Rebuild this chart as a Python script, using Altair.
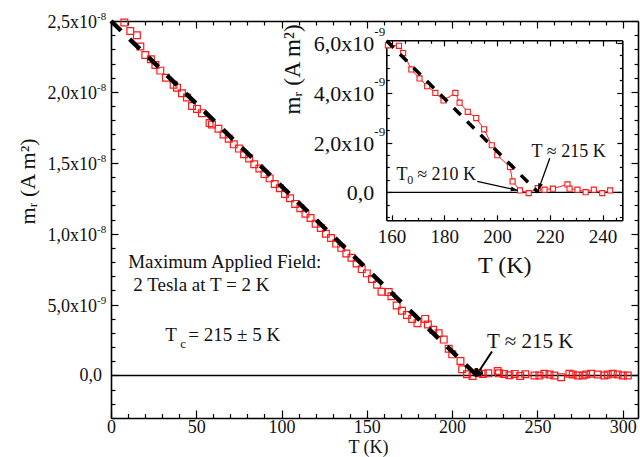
import altair as alt
import pandas as pd

FONT = "Liberation Serif"

# ---------------- data: remanent moment m_r (in units of 1e-9 A m^2) vs T (K)
T_data = [7.8, 11.3, 15.2, 17.2, 20.1, 23.4, 26.0, 28.9, 32.2, 36.7, 38.7, 41.6, 44.5, 47.5, 50.4,
          53.3, 57.8, 59.2, 63.0, 66, 69, 72, 75, 78, 81, 84, 87, 90, 93, 96, 99, 102, 105, 108,
          111, 114, 117, 120, 123, 126, 129, 132, 135, 138, 141, 144, 147, 150, 153, 156,
          158.6, 162.8, 164.4, 167.5, 170.6, 173.5, 176.6, 179.7, 184.2, 185.8, 188.9, 192.1,
          195.1, 198.0, 200.1, 204.9, 205.9, 208.7, 212.0, 215.4, 218.0, 221.2, 226.7, 227.5,
          230.5, 233.6, 236.7, 239.9, 242.9, 248.3, 251.2, 254.1, 257.1, 260.0, 263.9, 268.8,
          270.7, 273.7, 276.6, 278.6, 281.5, 285.4, 289.3, 291.3, 294.2, 297.1, 300.1, 303.0]
m_data = [24.9, 24.3, 24.0, 23.2, 22.6, 22.3, 21.9, 21.5, 21.0, 20.5, 20.3, 19.9, 19.6, 19.0, 18.8,
          18.5, 17.8, 17.7, 17.4, 17.0, 16.7, 16.3, 16.0, 15.6, 15.3, 14.9, 14.6, 14.2, 13.9, 13.5,
          13.2, 12.8, 12.5, 12.1, 11.8, 11.4, 11.1, 10.7, 10.4, 10.0, 9.7, 9.3, 9.0, 8.6, 8.3, 7.9,
          7.5, 7.2, 6.8, 6.4,
          5.90, 5.88, 5.59, 4.93, 4.57, 4.26, 3.99, 3.69, 3.99, 3.60, 3.23, 2.98,
          2.53, 1.89, 1.49, 1.02, 0.44, 0.08, -0.03, 0.17, 0.11, 0.15, 0.32, 0.15,
          0.11, 0.01, 0.11, -0.03, 0.08, 0.0, 0.0, 0.12, 0.07, 0.0, -0.12, 0.12,
          0.07, 0.0, 0.0, 0.07, 0.12, 0.07, 0.0, 0.07, 0.12, 0.07, 0.0, 0.0]

# linear extrapolations (dashed)
fit_T = [0, 214.5]
fit_m = [25.0, 0.0]
ifit_T = [158.1, 215.6]
ifit_m = [6.08, 0.0]

# axis tick labels
main_x_ticks = [0, 50, 100, 150, 200, 250, 300]
main_y_vals = [0, 5, 10, 15, 20, 25]
main_y_base = ["0,0", "5,0x10", "1,0x10", "1,5x10", "2,0x10", "2,5x10"]
main_y_exp = ["", "-9", "-8", "-8", "-8", "-8"]
inset_x_ticks = [160, 180, 200, 220, 240]
inset_y_vals = [0, 2, 4, 6]
inset_y_base = ["0,0", "2,0x10", "4,0x10", "6,0x10"]
inset_y_exp = ["", "-9", "-9", "-9"]

# annotations (data coordinates)
main_ann_text = ["Maximum Applied Field:", "2 Tesla at T = 2 K", "T", "= 215 ± 5 K"]
main_ann_T = [10.1, 13.1, 31.8, 45.3]
main_ann_m = [8.0, 6.35, 2.82, 2.82]
main_sub_text = ["c"]
main_sub_T = [40.6]
main_sub_m = [2.2]
main_arrow_text = ["T ≈ 215 K"]
main_arrow_T = [220.5]
main_arrow_m = [2.36]
main_arrow = dict(T0=[223.4], m0=[1.69], T1=[214.4], m1=[0.05])

inset_ann_text = ["T", "≈ 210 K", "T ≈ 215 K"]
inset_ann_T = [161.9, 169.7, 213.1]
inset_ann_m = [0.68, 0.68, 1.62]
inset_sub_text = ["0"]
inset_sub_T = [165.9]
inset_sub_m = [0.5]
inset_arrow1 = dict(T0=[192.5], m0=[0.44], T1=[207.9], m1=[0.08])
inset_arrow2 = dict(T0=[220.0], m0=[1.37], T1=[215.6], m1=[0.08])

# ---------------- layout
W, H = 527, 397
IL, IR, IT, IB = 275.3, 511.3, 19.3, 199.3   # inset box inside the plot area (px)

MX = alt.Scale(domain=[0, 309], nice=False, zero=False)
MY = alt.Scale(domain=[-3, 25], nice=False, zero=False)
IX = alt.Scale(domain=[158, 247.5], range=[IL, IR], nice=False, zero=False)
IY = alt.Scale(domain=[-1.12, 6.1], range=[IB, IT], nice=False, zero=False)

df = pd.DataFrame({"T": T_data, "m": m_data})
dfi = df[(df["T"] >= 158) & (df["T"] <= 247.5)]
fit = pd.DataFrame({"T": fit_T, "m": fit_m})
ifit = pd.DataFrame({"T": ifit_T, "m": ifit_m})


def enc_main(x="T:Q", y="m:Q"):
    return dict(x=alt.X(x, scale=MX, axis=None), y=alt.Y(y, scale=MY, axis=None))


def enc_inset(x="T:Q", y="m:Q"):
    return dict(x=alt.X(x, scale=IX, axis=None), y=alt.Y(y, scale=IY, axis=None))


layers = []

# ---- main plot
layers.append(alt.Chart(pd.DataFrame({"z": [0]})).mark_rule(color="black", strokeWidth=1.5).encode(
    y=alt.Y("z:Q", scale=MY, axis=None)))
layers.append(alt.Chart(df).mark_point(shape="square", filled=False, color="#ff1a1a", size=46,
                                       strokeWidth=1.2, opacity=1).encode(**enc_main()))
layers.append(alt.Chart(fit).mark_line(color="black", strokeWidth=4.5, strokeDash=[14, 12]).encode(**enc_main()))
ma = pd.DataFrame(main_arrow)
layers.append(alt.Chart(ma).mark_rule(color="black", strokeWidth=2).encode(
    x=alt.X("T0:Q", scale=MX, axis=None), y=alt.Y("m0:Q", scale=MY, axis=None),
    x2="T1:Q", y2="m1:Q"))
layers.append(alt.Chart(ma).mark_point(shape="M-0.75,-1L0,0L0.75,-1", filled=False, color="black",
                                       strokeWidth=3.5, size=110, angle=33, opacity=1).encode(**enc_main("T1:Q", "m1:Q")))
ann = pd.DataFrame({"T": main_ann_T, "m": main_ann_m, "t": main_ann_text})
layers.append(alt.Chart(ann).mark_text(align="left", baseline="middle", fontSize=19, color="#111").encode(
    text="t:N", **enc_main()))
aat = pd.DataFrame({"T": main_arrow_T, "m": main_arrow_m, "t": main_arrow_text})
layers.append(alt.Chart(aat).mark_text(align="left", baseline="middle", fontSize=21, color="#111").encode(
    text="t:N", **enc_main()))
sub = pd.DataFrame({"T": main_sub_T, "m": main_sub_m, "t": main_sub_text})
layers.append(alt.Chart(sub).mark_text(align="left", baseline="middle", fontSize=13, color="#111").encode(
    text="t:N", **enc_main()))
# y tick labels with superscript exponents
yl = pd.DataFrame({"v": main_y_vals, "b": main_y_base, "e": main_y_exp})
layers.append(alt.Chart(yl).transform_filter("datum.e != ''").mark_text(
    align="right", baseline="middle", dx=-14, dy=2, fontSize=18, color="#111").encode(
    x=alt.X(datum=0, scale=MX, axis=None), y=alt.Y("v:Q", scale=MY, axis=None), text="b:N"))
layers.append(alt.Chart(yl).transform_filter("datum.e == ''").mark_text(
    align="right", baseline="middle", dx=-9, dy=1, fontSize=18, color="#111").encode(
    x=alt.X(datum=0, scale=MX, axis=None), y=alt.Y("v:Q", scale=MY, axis=None), text="b:N"))
layers.append(alt.Chart(yl).transform_filter("datum.e != ''").mark_text(
    align="left", baseline="middle", dx=-14, dy=-4, fontSize=11, color="#111").encode(
    x=alt.X(datum=0, scale=MX, axis=None), y=alt.Y("v:Q", scale=MY, axis=None), text="e:N"))

# ---- inset
layers.append(alt.Chart(pd.DataFrame({"a": [158], "b": [247.5], "z": [0]})).mark_rule(
    color="black", strokeWidth=1.3).encode(
    x=alt.X("a:Q", scale=IX, axis=None), x2="b:Q", y=alt.Y("z:Q", scale=IY, axis=None)))
layers.append(alt.Chart(dfi).mark_line(color="#ff1a1a", strokeWidth=1).encode(**enc_inset()))
layers.append(alt.Chart(dfi).mark_point(shape="square", filled=True, fill="white", stroke="#ff1a1a",
                                        size=26, strokeWidth=1.1, opacity=1).encode(**enc_inset()))
layers.append(alt.Chart(ifit).mark_line(color="black", strokeWidth=3.5, strokeDash=[10, 9]).encode(**enc_inset()))
for arr, ang in ((inset_arrow1, 282.4), (inset_arrow2, 20)):
    a = pd.DataFrame(arr)
    layers.append(alt.Chart(a).mark_rule(color="black", strokeWidth=1.3).encode(
        x=alt.X("T0:Q", scale=IX, axis=None), y=alt.Y("m0:Q", scale=IY, axis=None),
        x2="T1:Q", y2="m1:Q"))
    layers.append(alt.Chart(a).mark_point(shape="M-0.35,-1L0,0L0.35,-1Z", filled=True, color="black",
                                          size=200, angle=ang, opacity=1).encode(**enc_inset("T1:Q", "m1:Q")))
iann = pd.DataFrame({"T": inset_ann_T, "m": inset_ann_m, "t": inset_ann_text})
layers.append(alt.Chart(iann).mark_text(align="left", baseline="middle", fontSize=18, color="#111").encode(
    text="t:N", **enc_inset()))
isub = pd.DataFrame({"T": inset_sub_T, "m": inset_sub_m, "t": inset_sub_text})
layers.append(alt.Chart(isub).mark_text(align="left", baseline="middle", fontSize=12, color="#111").encode(
    text="t:N", **enc_inset()))
iyl = pd.DataFrame({"v": inset_y_vals, "b": inset_y_base, "e": inset_y_exp})
layers.append(alt.Chart(iyl).mark_text(
    align="right", baseline="middle", dx=-12, dy=1, fontSize=22, color="#111").encode(
    x=alt.X(datum=158, scale=IX, axis=None), y=alt.Y("v:Q", scale=IY, axis=None), text="b:N"))
layers.append(alt.Chart(iyl).transform_filter("datum.e != ''").mark_text(
    align="left", baseline="middle", dx=-12, dy=-11, fontSize=13, color="#111").encode(
    x=alt.X(datum=158, scale=IX, axis=None), y=alt.Y("v:Q", scale=IY, axis=None), text="e:N"))


# ---- axes (frames with inward ticks)
def tsize(mod, big, small):
    return {"condition": {"test": f"datum.value % {mod} === 0", "value": big}, "value": small}


def axis_layer(xs, ys, xaxis, yaxis, x0, y0):
    d = pd.DataFrame({"a": [x0], "b": [y0]})
    return alt.Chart(d).mark_point(opacity=0).encode(
        x=alt.X("a:Q", scale=xs, axis=xaxis), y=alt.Y("b:Q", scale=ys, axis=yaxis))


common = dict(grid=False, domainColor="black", tickColor="black", tickWidth=1.2, domainWidth=1.6,
              labelFlush=False)
mx_minor = list(range(0, 310, 10))
my_minor = list(range(-3, 26, 1))
ix_minor = list(range(160, 248, 5))
iy_minor = [i * 0.5 for i in range(-2, 13)]

# main: bottom labels + left domain/title
layers.append(axis_layer(
    MX, MY,
    alt.Axis(orient="bottom", values=main_x_ticks, ticks=False, domain=True, labels=True, format="d",
             labelFontSize=18, labelPadding=0, title="T (K)", titleFontSize=18, titleX=257, titleY=34,
             titleBaseline="alphabetic", titleAlign="center", **common),
    alt.Axis(orient="left", values=main_y_vals, ticks=False, domain=True, labels=False,
             title="mᵣ (A m²)", titleFontSize=22, titleX=-84, titleY=160, titleAngle=270,
             titleBaseline="middle", titleAlign="center", **common),
    0, 0))
# main: inward ticks on bottom and left
layers.append(axis_layer(
    MX, MY,
    alt.Axis(orient="top", offset=-H, values=mx_minor, ticks=True, domain=False, labels=False,
             tickSize=tsize(50, 8, 4.5), title=None, **common),
    alt.Axis(orient="right", offset=-W, values=my_minor, ticks=True, domain=False, labels=False,
             tickSize=tsize(5, 7, 4), title=None, **common),
    0, 0))
# main: top and right borders with inward ticks
layers.append(axis_layer(
    MX, MY,
    alt.Axis(orient="bottom", offset=-H, values=mx_minor, ticks=True, domain=True, labels=False,
             tickSize=tsize(50, 7, 4), title=None, **common),
    alt.Axis(orient="left", offset=-W, values=my_minor, ticks=True, domain=True, labels=False,
             tickSize=tsize(5, 7, 4), title=None, **common),
    0, 0))

# inset: bottom labels + left domain/title
layers.append(axis_layer(
    IX, IY,
    alt.Axis(orient="bottom", offset=IB - H, values=inset_x_ticks, ticks=False, domain=True, labels=True,
             format="d", labelFontSize=19, labelPadding=7, title="T (K)", titleFontSize=24,
             titleX=(IL + IR) / 2, titleY=52, titleBaseline="alphabetic", titleAlign="center", **common),
    alt.Axis(orient="left", offset=-IL, values=inset_y_vals, ticks=False, domain=True, labels=False,
             title="mᵣ (A m²)", titleFontSize=23, titleX=-94, titleY=48, titleAngle=270,
             titleBaseline="middle", titleAlign="center", **common),
    160, 0))
# inset: inward ticks bottom/left
layers.append(axis_layer(
    IX, IY,
    alt.Axis(orient="top", offset=-IB, values=ix_minor, ticks=True, domain=False, labels=False,
             tickSize=tsize(20, 5.5, 3), title=None, **common),
    alt.Axis(orient="right", offset=IL - W, values=iy_minor, ticks=True, domain=False, labels=False,
             tickSize=tsize(2, 5.5, 3), title=None, **common),
    160, 0))
# inset: top/right borders
layers.append(axis_layer(
    IX, IY,
    alt.Axis(orient="bottom", offset=IT - H, values=ix_minor, ticks=True, domain=True, labels=False,
             tickSize=tsize(20, 5.5, 3), title=None, **common),
    alt.Axis(orient="left", offset=-IR, values=iy_minor, ticks=True, domain=True, labels=False,
             tickSize=tsize(2, 5.5, 3), title=None, **common),
    160, 0))

chart = alt.layer(*layers).resolve_scale(x="independent", y="independent").properties(
    width=W, height=H,
    autosize=alt.AutoSizeParams(type="none"),
    padding={"left": 111, "top": 21, "right": 2, "bottom": 39},
    background="white",
).configure_axis(
    labelFont=FONT, titleFont=FONT, labelColor="#111", titleColor="#111", titleFontWeight="normal"
).configure_text(font=FONT).configure_view(strokeWidth=0)

chart.save("out.html", embed_options={"renderer": "svg", "actions": False})
